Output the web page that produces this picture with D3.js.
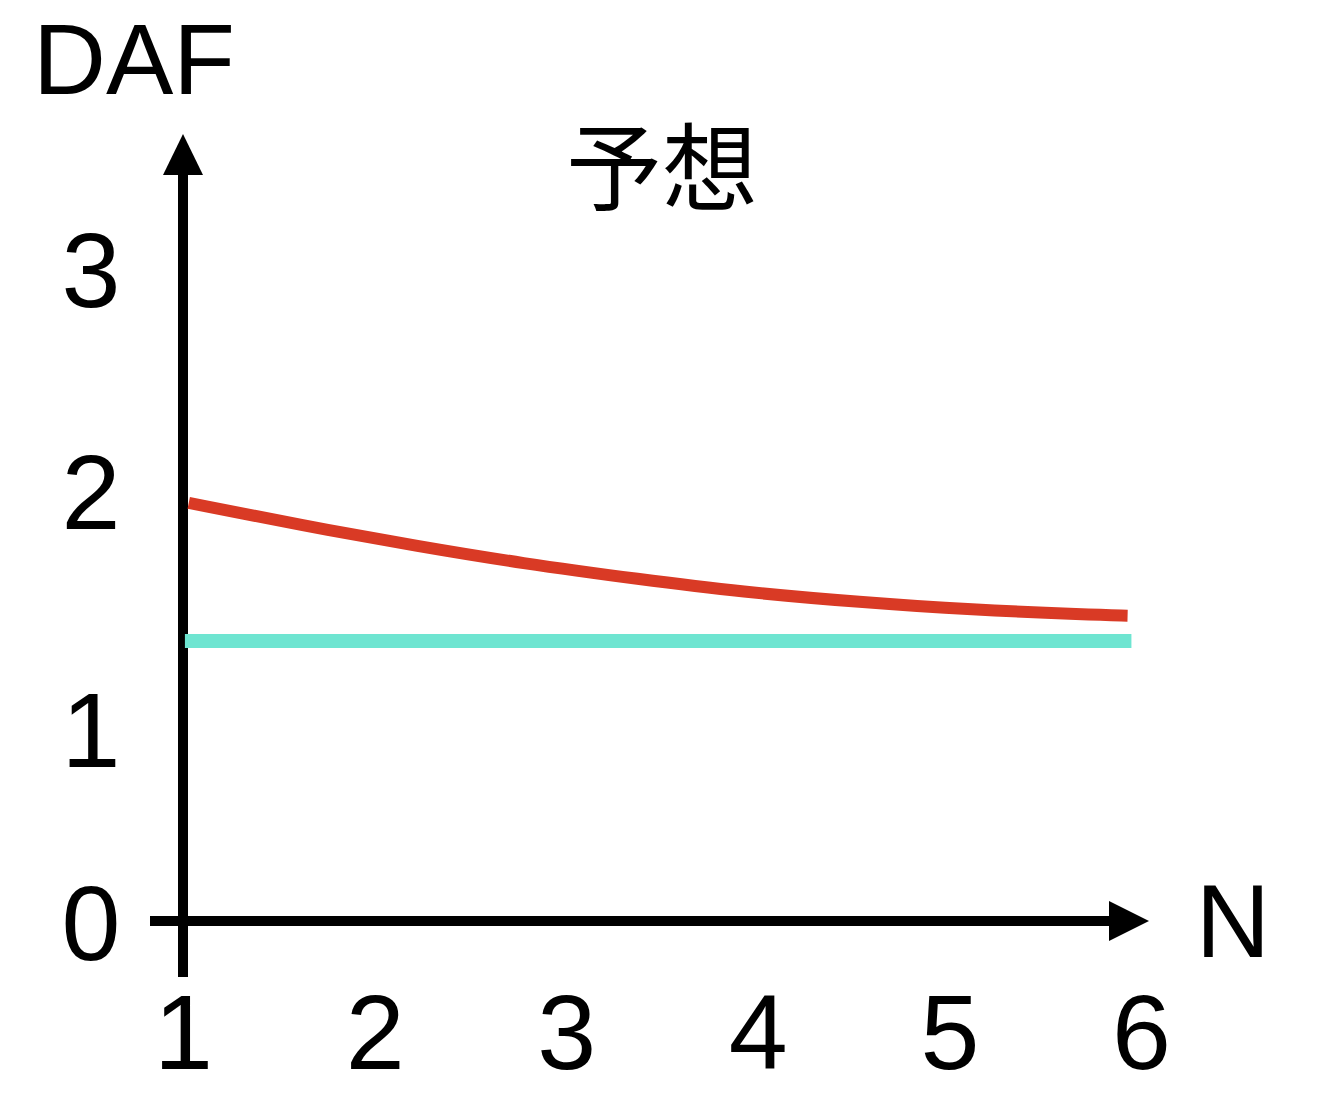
<!DOCTYPE html>
<html>
<head>
<meta charset="utf-8">
<script src="https://cdn.jsdelivr.net/npm/d3@7"></script>
<style>
  html, body { margin: 0; padding: 0; background: #fff; }
  svg { display: block; }
</style>
</head>
<body>
<script>
// ---- data ----
const title = "予想";
const yAxisLabel = "DAF";
const xAxisLabel = "N";
const xTicks = [1, 2, 3, 4, 5, 6];
const yTicks = [0, 1, 2, 3];
// red curve: N vs DAF
const redN   = [1.03, 1.62, 2.24, 2.76, 3.39, 3.91, 4.54, 5.11, 5.73, 5.93];
const redDAF = [1.946, 1.851, 1.762, 1.693, 1.624, 1.572, 1.528, 1.497, 1.476, 1.472];
// cyan flat line
const cyanN   = [1.01, 5.95];
const cyanDAF = [1.366, 1.366];

const W = 1328, H = 1112;
const svg = d3.select("body").append("svg").attr("width", W).attr("height", H);

const x = d3.scaleLinear().domain([1, 6]).range([183, 1141]);
// hand-spaced value axis (as in the picture)
const y = d3.scaleLinear().domain([0, 1, 2, 3]).range([921, 728, 490, 268]);

const font = "'Liberation Sans', Arial, sans-serif";

// axes lines with arrows
svg.append("line").attr("x1", x(1)).attr("x2", x(1)).attr("y1", 977).attr("y2", 172)
  .attr("stroke", "#000").attr("stroke-width", 10);
svg.append("path")
  .attr("d", `M${x(1)},134 L${x(1) + 20},175 L${x(1) - 20},175 Z`).attr("fill", "#000");
svg.append("line").attr("x1", 150).attr("x2", 1112).attr("y1", y(0)).attr("y2", y(0))
  .attr("stroke", "#000").attr("stroke-width", 10);
svg.append("path")
  .attr("d", `M1149,${y(0)} L1109,${y(0) - 20} L1109,${y(0) + 20} Z`).attr("fill", "#000");

// x ticks
const xAxis = d3.axisBottom(x).tickValues(xTicks).tickSize(0).tickPadding(0).tickFormat(d3.format("d"));
const gx = svg.append("g").attr("transform", "translate(0,1069)").call(xAxis);
gx.select(".domain").remove();
gx.selectAll("text").attr("dy", 0).attr("font-family", font).attr("font-size", 106).attr("fill", "#000");

// y ticks
const yAxis = d3.axisLeft(y).tickValues(yTicks).tickSize(0).tickPadding(0).tickFormat(d3.format("d"));
const gy = svg.append("g").attr("transform", "translate(91,0)").call(yAxis);
gy.select(".domain").remove();
gy.selectAll("text").attr("text-anchor", "middle").attr("dy", "0.36em")
  .attr("font-family", font).attr("font-size", 106).attr("fill", "#000");

// series
const line = d3.line().x(d => x(d[0])).y(d => y(d[1]));
svg.append("path")
  .datum(cyanN.map((n, i) => [n, cyanDAF[i]]))
  .attr("d", line).attr("fill", "none").attr("stroke", "#6ee5d1").attr("stroke-width", 14);
svg.append("path")
  .datum(redN.map((n, i) => [n, redDAF[i]]))
  .attr("d", d3.line().x(d => x(d[0])).y(d => y(d[1])).curve(d3.curveBasis))
  .attr("fill", "none").attr("stroke", "#d93a25").attr("stroke-width", 12);

// labels
svg.append("text").attr("x", 134).attr("y", 94).attr("text-anchor", "middle")
  .attr("font-family", font).attr("font-size", 101).text(yAxisLabel);
svg.append("text").attr("x", 1233).attr("y", 957).attr("text-anchor", "middle")
  .attr("font-family", font).attr("font-size", 103).text(xAxisLabel);
svg.append("text").attr("x", 662).attr("y", 203).attr("text-anchor", "middle")
  .attr("font-family", "'Noto Sans CJK JP', sans-serif").attr("font-size", 96).text(title);
</script>
</body>
</html>
